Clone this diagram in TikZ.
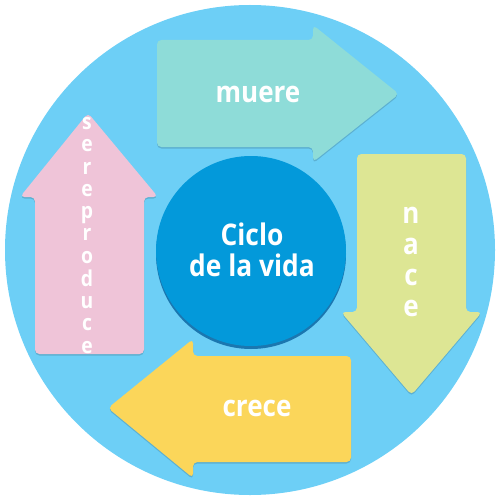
\documentclass[tikz,border=0pt]{standalone}
\usepackage{fontspec}
\setmainfont{Open Sans}
\definecolor{bgblue}{HTML}{6DCFF6}
\definecolor{mint}{HTML}{8EDCD8}
\definecolor{lime}{HTML}{DDE694}
\definecolor{sun}{HTML}{FBD65A}
\definecolor{rose}{HTML}{EFC4D8}
\definecolor{core}{HTML}{0399DA}
\definecolor{coreshadow}{HTML}{1B77B0}
\newcommand{\tallstack}[1]{\scalebox{1}[1.13]{\begin{tabular}{@{}c@{}}#1\end{tabular}}}
\tikzset{
  arrowshape/.style={rounded corners=2.5pt},
  shadowshape/.style={rounded corners=2.5pt, fill=black, opacity=0.15},
  lbl/.style={text=white, font=\bfseries\fontsize{14.8}{16.5}\selectfont, inner sep=0pt},
}
\begin{document}
\begin{tikzpicture}[x=0.02cm, y=-0.02cm]
\useasboundingbox (0,0) rectangle (500,500);
\fill[bgblue] (250,250) circle (245);
% top arrow (muere)
\fill[shadowshape] (157,41.5) -- (313,41.5) -- (313,26.5) -- (399,95.5) -- (313,163.5) -- (313,148.5) -- (157,148.5) -- cycle;
\fill[mint, arrowshape] (157,40) -- (313,40) -- (313,25) -- (399,94) -- (313,162) -- (313,147) -- (157,147) -- cycle;
% right arrow (nace)
\fill[shadowshape] (357,155.5) -- (466,155.5) -- (466,313.5) -- (482,313.5) -- (411.5,396.5) -- (341,313.5) -- (357,313.5) -- cycle;
\fill[lime, arrowshape] (357,154) -- (466,154) -- (466,312) -- (482,312) -- (411.5,395) -- (341,312) -- (357,312) -- cycle;
% bottom arrow (crece)
\fill[shadowshape] (351,357.5) -- (351,463.5) -- (193,463.5) -- (193,479.5) -- (108,409.5) -- (193,340.5) -- (193,357.5) -- cycle;
\fill[sun, arrowshape] (351,356) -- (351,462) -- (193,462) -- (193,478) -- (108,408) -- (193,339) -- (193,356) -- cycle;
% left arrow (se reproduce)
\fill[shadowshape] (35,355.5) -- (144,355.5) -- (144,198.5) -- (158,198.5) -- (88,114.5) -- (20,198.5) -- (35,198.5) -- cycle;
\fill[rose, arrowshape] (35,354) -- (144,354) -- (144,197) -- (158,197) -- (88,113) -- (20,197) -- (35,197) -- cycle;
% centre
\fill[coreshadow] (251,254) circle (95);
\fill[core] (251,251) circle (95);
% labels
\node[lbl, anchor=base] (muere) at (258,103) {\scalebox{1}[1.13]{muere}};
\node[lbl, anchor=base] (crece) at (257,416) {\scalebox{1}[1.13]{crece}};
\node[lbl, font=\bfseries\fontsize{15}{14.6}\selectfont] (ciclo) at (252,254) {\tallstack{Ciclo\\de la vida}};
\node[lbl, font=\bfseries\fontsize{14.8}{15.5}\selectfont] (nace) at (411,264) {\tallstack{n\\a\\c\\e}};
\node[lbl, font=\bfseries\fontsize{11}{11.2}\selectfont] (repro) at (87,237) {\tallstack{s\\e\\r\\e\\p\\r\\o\\d\\u\\c\\e}};
\end{tikzpicture}
\end{document}
